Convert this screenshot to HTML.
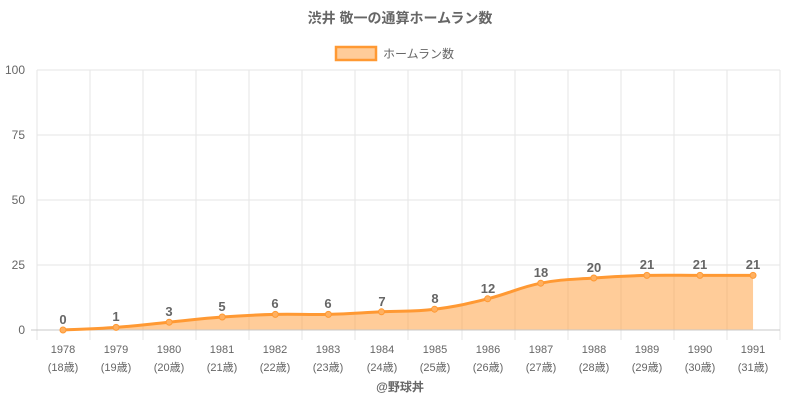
<!DOCTYPE html>
<html><head><meta charset="utf-8"><style>
html,body{margin:0;padding:0;background:#fff;}
svg{display:block;font-family:"Liberation Sans","Noto Sans CJK JP",sans-serif;}
</style></head><body>
<svg width="800" height="400" viewBox="0 0 800 400" xmlns="http://www.w3.org/2000/svg">
<text x="400" y="23" text-anchor="middle" font-size="14" font-weight="bold" fill="#666">渋井 敬一の通算ホームラン数</text>
<rect x="336" y="47" width="40" height="13" fill="#ffcc99" stroke="#ff9933" stroke-width="2.5"/>
<text x="383" y="58" font-size="12" fill="#666">ホームラン数</text>
<g stroke="#e6e6e6" stroke-width="1">
<line x1="37" y1="70" x2="780" y2="70"/><line x1="37" y1="135" x2="780" y2="135"/>
<line x1="37" y1="200" x2="780" y2="200"/><line x1="37" y1="265" x2="780" y2="265"/>
<line x1="37" y1="70" x2="37" y2="340"/><line x1="90" y1="70" x2="90" y2="340"/><line x1="143" y1="70" x2="143" y2="340"/><line x1="196" y1="70" x2="196" y2="340"/><line x1="249" y1="70" x2="249" y2="340"/><line x1="302" y1="70" x2="302" y2="340"/><line x1="355" y1="70" x2="355" y2="340"/><line x1="408" y1="70" x2="408" y2="340"/><line x1="462" y1="70" x2="462" y2="340"/><line x1="515" y1="70" x2="515" y2="340"/><line x1="568" y1="70" x2="568" y2="340"/><line x1="621" y1="70" x2="621" y2="340"/><line x1="674" y1="70" x2="674" y2="340"/><line x1="727" y1="70" x2="727" y2="340"/><line x1="780" y1="70" x2="780" y2="340"/>
</g>
<g font-size="12" fill="#666" text-anchor="end">
<text x="25" y="74">100</text><text x="25" y="139">75</text><text x="25" y="204">50</text><text x="25" y="269">25</text><text x="25" y="334">0</text>
</g>
<path id="area" fill="rgba(255,153,51,0.5)" stroke="none"/>
<line x1="31" y1="330" x2="780" y2="330" stroke="#c8c8c8" stroke-width="1"/>
<path id="ln" fill="none" stroke="#ff9933" stroke-width="3"/>
<g id="pts" fill="#ffb060" stroke="#ff9933" stroke-width="1"></g>
<g font-size="13" font-weight="bold" fill="#666" text-anchor="middle">
<text x="63" y="324">0</text><text x="116" y="321">1</text><text x="169" y="316">3</text><text x="222" y="311">5</text><text x="275" y="308">6</text><text x="328" y="308">6</text><text x="382" y="306">7</text><text x="435" y="303">8</text><text x="488" y="293">12</text><text x="541" y="277">18</text><text x="594" y="272">20</text><text x="647" y="269">21</text><text x="700" y="269">21</text><text x="753" y="269">21</text>
</g>
<g font-size="11" fill="#666" text-anchor="middle">
<text x="63" y="353">1978</text><text x="116" y="353">1979</text><text x="169" y="353">1980</text><text x="222" y="353">1981</text><text x="275" y="353">1982</text><text x="328" y="353">1983</text><text x="382" y="353">1984</text><text x="435" y="353">1985</text><text x="488" y="353">1986</text><text x="541" y="353">1987</text><text x="594" y="353">1988</text><text x="647" y="353">1989</text><text x="700" y="353">1990</text><text x="753" y="353">1991</text>
<text x="63" y="371">(18歳)</text><text x="116" y="371">(19歳)</text><text x="169" y="371">(20歳)</text><text x="222" y="371">(21歳)</text><text x="275" y="371">(22歳)</text><text x="328" y="371">(23歳)</text><text x="382" y="371">(24歳)</text><text x="435" y="371">(25歳)</text><text x="488" y="371">(26歳)</text><text x="541" y="371">(27歳)</text><text x="594" y="371">(28歳)</text><text x="647" y="371">(29歳)</text><text x="700" y="371">(30歳)</text><text x="753" y="371">(31歳)</text>
</g>
<text x="400" y="391" text-anchor="middle" font-size="12" font-weight="bold" fill="#666">@野球丼</text>
</svg>
<script>
var v=[0,1,3,5,6,6,7,8,12,18,20,21,21,21],P=[];
for(var i=0;i<v.length;i++)P.push([63+i*53.08,330-v[i]*2.6]);
var d="M"+P[0][0]+","+P[0][1],t=0.4;
for(var i=0;i<P.length-1;i++){
var p0=P[Math.max(i-1,0)],p1=P[i],p2=P[i+1],p3=P[Math.min(i+2,P.length-1)];
var c1x=p1[0]+(p2[0]-p0[0])*t/2,c1y=p1[1]+(p2[1]-p0[1])*t/2;
var c2x=p2[0]-(p3[0]-p1[0])*t/2,c2y=p2[1]-(p3[1]-p1[1])*t/2;
d+=" C"+c1x+","+c1y+" "+c2x+","+c2y+" "+p2[0]+","+p2[1];}
document.getElementById("ln").setAttribute("d",d);
document.getElementById("area").setAttribute("d",d+" L"+P[P.length-1][0]+",330 L"+P[0][0]+",330 Z");
var g=document.getElementById("pts"),s="";
P.forEach(function(p){s+='<circle cx="'+p[0]+'" cy="'+p[1]+'" r="3"/>';});
g.innerHTML=s;
</script>
</body></html>
